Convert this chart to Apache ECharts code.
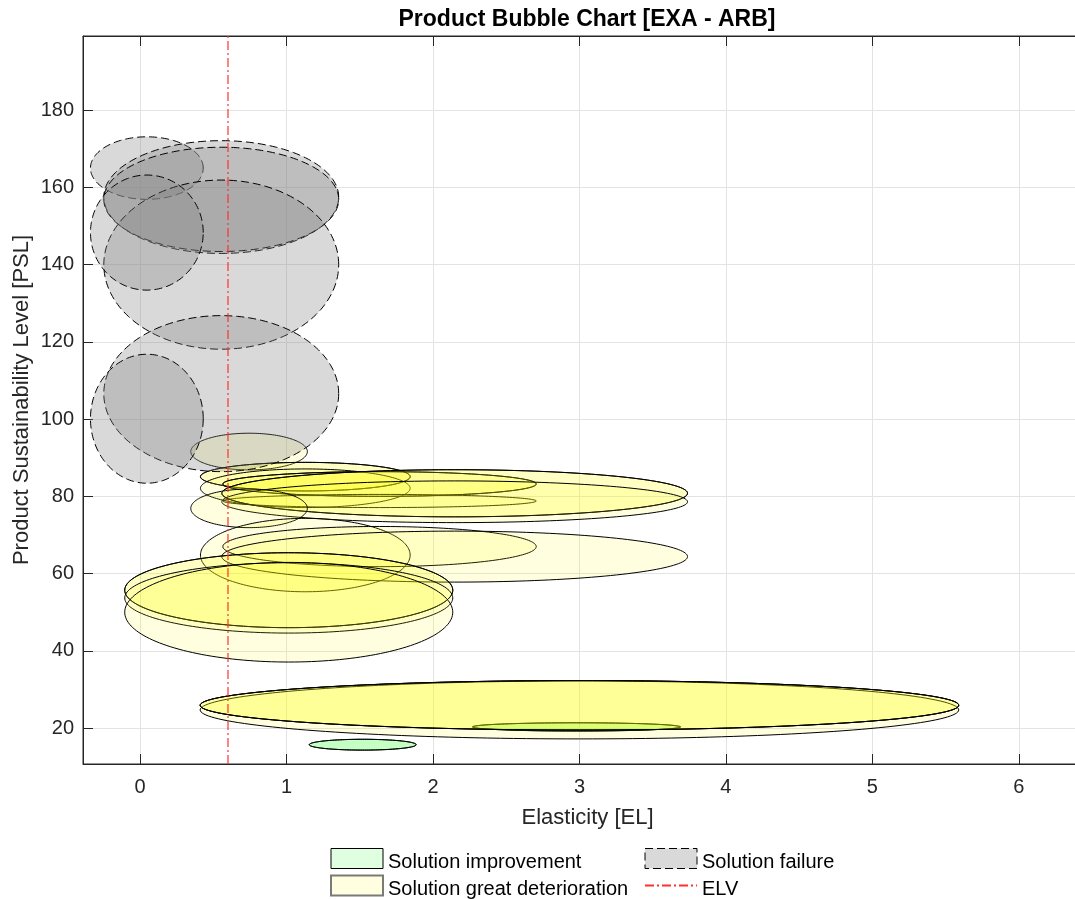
<!DOCTYPE html>
<html>
<head>
<meta charset="utf-8">
<title>Product Bubble Chart [EXA - ARB]</title>
<script src="https://cdn.jsdelivr.net/npm/echarts@6/dist/echarts.min.js"></script>
<style>
  html, body { margin: 0; padding: 0; background: #ffffff; }
  #chart { width: 1075px; height: 899px; }
</style>
</head>
<body>
<div id="chart"></div>
<script>
// Each bubble: [centre EL, centre PSL, half-width in EL, half-height in PSL]
const improvement = [
  [1.52, 15.7, 0.365, 1.4],
  [1.52, 15.7, 0.365, 1.4],
  [2.98, 20.3, 0.71, 1.07],
  [2.98, 20.3, 0.71, 1.07]
];

const greatDeterioration = [
  [0.744, 91.6, 0.398, 4.75],
  [1.128, 85.1, 0.716, 3.7],
  [1.128, 85.1, 0.716, 3.7],
  [1.128, 82.1, 0.716, 5.0],
  [1.635, 83.2, 1.07, 3.2],
  [1.635, 83.2, 1.07, 3.2],
  [1.635, 78.8, 1.07, 1.7],
  [2.148, 80.8, 1.59, 6.1],
  [2.148, 80.8, 1.59, 6.1],
  [2.148, 78.6, 1.59, 5.4],
  [0.744, 76.9, 0.398, 5.0],
  [1.128, 64.8, 0.716, 9.5],
  [1.635, 67.0, 1.07, 5.2],
  [2.148, 64.4, 1.59, 6.6],
  [1.015, 55.7, 1.12, 9.7],
  [1.015, 55.7, 1.12, 9.7],
  [1.015, 53.7, 1.12, 9.1],
  [1.015, 50.0, 1.12, 12.9],
  [3.0, 24.7, 2.59, 7.5],
  [3.0, 25.9, 2.59, 6.4],
  [3.0, 25.9, 2.59, 6.4],
  [3.0, 25.9, 2.59, 6.4]
];

const failure = [
  [0.046, 165.0, 0.385, 8.1],
  [0.554, 157.5, 0.802, 14.6],
  [0.554, 156.9, 0.802, 13.5],
  [0.554, 140.0, 0.802, 21.9],
  [0.046, 148.3, 0.385, 14.9],
  [0.554, 106.6, 0.802, 20.2],
  [0.046, 100.1, 0.385, 16.7]
];

// Elasticity limit value
const elv = 0.6;

const xTicks = [0, 1, 2, 3, 4, 5, 6];
const yTicks = [20, 40, 60, 80, 100, 120, 140, 160, 180];
const xLimits = [-0.39, 6.5];
const yLimits = [10.7, 199.2];

const FONT = '"Liberation Sans", Arial, Helvetica, sans-serif';
const AXIS_COLOR = '#262626';

const GREEN_FILL = 'rgba(0,255,0,0.12)';
const YELLOW_FILL = 'rgba(255,255,0,0.12)';
const GRAY_FILL = 'rgba(128,128,128,0.3)';
const FAILURE_DASH = [8, 4];
const ELV_COLOR = '#ff3030';

// Ellipse outline traced through the cartesian coordinate system
function ellipseRenderer(fill, stroke, dash) {
  return function (params, api) {
    const cx = api.value(0);
    const cy = api.value(1);
    const rx = api.value(2);
    const ry = api.value(3);
    const n = 180;
    const points = [];
    for (let i = 0; i < n; i++) {
      const t = (i / n) * Math.PI * 2;
      points.push(api.coord([cx + rx * Math.cos(t), cy + ry * Math.sin(t)]));
    }
    return {
      type: 'polygon',
      shape: { points: points },
      style: { fill: fill, stroke: stroke, lineWidth: 1, lineDash: dash }
    };
  };
}

function bubbleSeries(name, data, fill, stroke, dash, z) {
  return {
    type: 'custom',
    name: name,
    data: data,
    dimensions: ['el', 'psl', 'halfWidth', 'halfHeight'],
    encode: { x: 0, y: 1 },
    renderItem: ellipseRenderer(fill, stroke, dash),
    itemStyle: { color: fill, borderColor: stroke },
    silent: true,
    z: z
  };
}

const chart = echarts.init(document.getElementById('chart'), null, { renderer: 'canvas' });

const baseX = {
  type: 'value',
  min: xLimits[0],
  max: xLimits[1],
  axisLine: { show: true, onZero: false, lineStyle: { color: AXIS_COLOR, width: 1 } },
  axisTick: { show: true, inside: true, length: 10, customValues: xTicks, lineStyle: { color: AXIS_COLOR } }
};

// Legend labels sit slightly below the swatch centre
const legendCommon = {
  orient: 'vertical',
  top: 845,
  height: 80,
  padding: 0,
  itemWidth: 52,
  itemHeight: 20,
  itemGap: 0,
  selectedMode: false,
  formatter: function (name) { return '{t|' + name + '}'; },
  textStyle: {
    fontSize: 20,
    color: '#000000',
    fontFamily: FONT,
    rich: {
      t: { fontSize: 20, lineHeight: 20, padding: [7, 0, 0, 0], color: '#000000', fontFamily: FONT }
    }
  }
};

const option = {
  backgroundColor: '#ffffff',
  animation: false,
  textStyle: { fontFamily: FONT },
  graphic: [{
    type: 'text',
    x: 587,
    y: 20,
    style: {
      text: 'Product Bubble Chart [EXA - ARB]',
      font: 'bold 23px ' + FONT,
      fill: '#000000',
      align: 'center',
      verticalAlign: 'middle',
      textAlign: 'center',
      textVerticalAlign: 'middle'
    }
  }],
  grid: {
    left: 83,
    top: 36,
    width: 1009,
    height: 728,
    outerBoundsMode: 'none',
    containLabel: false,
    show: true,
    borderColor: AXIS_COLOR,
    borderWidth: 1,
    backgroundColor: 'transparent'
  },
  xAxis: [
    Object.assign({}, baseX, {
      position: 'bottom',
      name: 'Elasticity [EL]',
      nameLocation: 'middle',
      nameGap: 43,
      nameMoveOverlap: false,
      nameTextStyle: { fontSize: 22, color: AXIS_COLOR, fontFamily: FONT },
      axisLabel: { show: true, customValues: xTicks, margin: 13, fontSize: 20, color: AXIS_COLOR, fontFamily: FONT },
      splitLine: { show: true, lineStyle: { color: '#e3e3e3', width: 1 } }
    }),
    Object.assign({}, baseX, {
      position: 'top',
      axisLabel: { show: false },
      splitLine: { show: false }
    })
  ],
  yAxis: {
    type: 'value',
    min: yLimits[0],
    max: yLimits[1],
    name: 'Product Sustainability Level [PSL]',
    nameLocation: 'middle',
    nameGap: 50,
    nameMoveOverlap: false,
    nameTextStyle: { fontSize: 22, color: AXIS_COLOR, fontFamily: FONT },
    axisLine: { show: true, onZero: false, lineStyle: { color: AXIS_COLOR, width: 1 } },
    axisTick: { show: true, inside: true, length: 10, customValues: yTicks, lineStyle: { color: AXIS_COLOR } },
    axisLabel: { show: true, customValues: yTicks, margin: 9, fontSize: 20, color: AXIS_COLOR, fontFamily: FONT },
    splitLine: { show: true, lineStyle: { color: '#e3e3e3', width: 1 } }
  },
  legend: [
    Object.assign({}, legendCommon, {
      left: 330,
      data: [
        { name: 'Solution improvement', icon: 'rect', itemStyle: { color: GREEN_FILL, borderColor: '#000000', borderWidth: 1 } },
        { name: 'Solution great deterioration', icon: 'rect', itemStyle: { color: YELLOW_FILL, borderColor: '#7a7a7a', borderWidth: 2 } }
      ]
    }),
    Object.assign({}, legendCommon, {
      left: 644,
      data: [
        { name: 'Solution failure', icon: 'rect', itemStyle: { color: GRAY_FILL, borderColor: '#000000', borderWidth: 1, borderType: FAILURE_DASH } },
        { name: 'ELV', itemStyle: { opacity: 0 } }
      ]
    })
  ],
  series: [
    bubbleSeries('Solution improvement', improvement, GREEN_FILL, '#000000', null, 3),
    bubbleSeries('Solution great deterioration', greatDeterioration, YELLOW_FILL, '#000000', null, 4),
    bubbleSeries('Solution failure', failure, GRAY_FILL, '#000000', FAILURE_DASH, 5),
    {
      type: 'line',
      name: 'ELV',
      data: [[elv, yLimits[0]], [elv, yLimits[1]]],
      symbol: 'none',
      silent: true,
      z: 6,
      lineStyle: { color: ELV_COLOR, width: 1.2, type: [9, 3, 2, 3] },
      itemStyle: { color: ELV_COLOR }
    }
  ]
};

chart.setOption(option);
</script>
</body>
</html>
